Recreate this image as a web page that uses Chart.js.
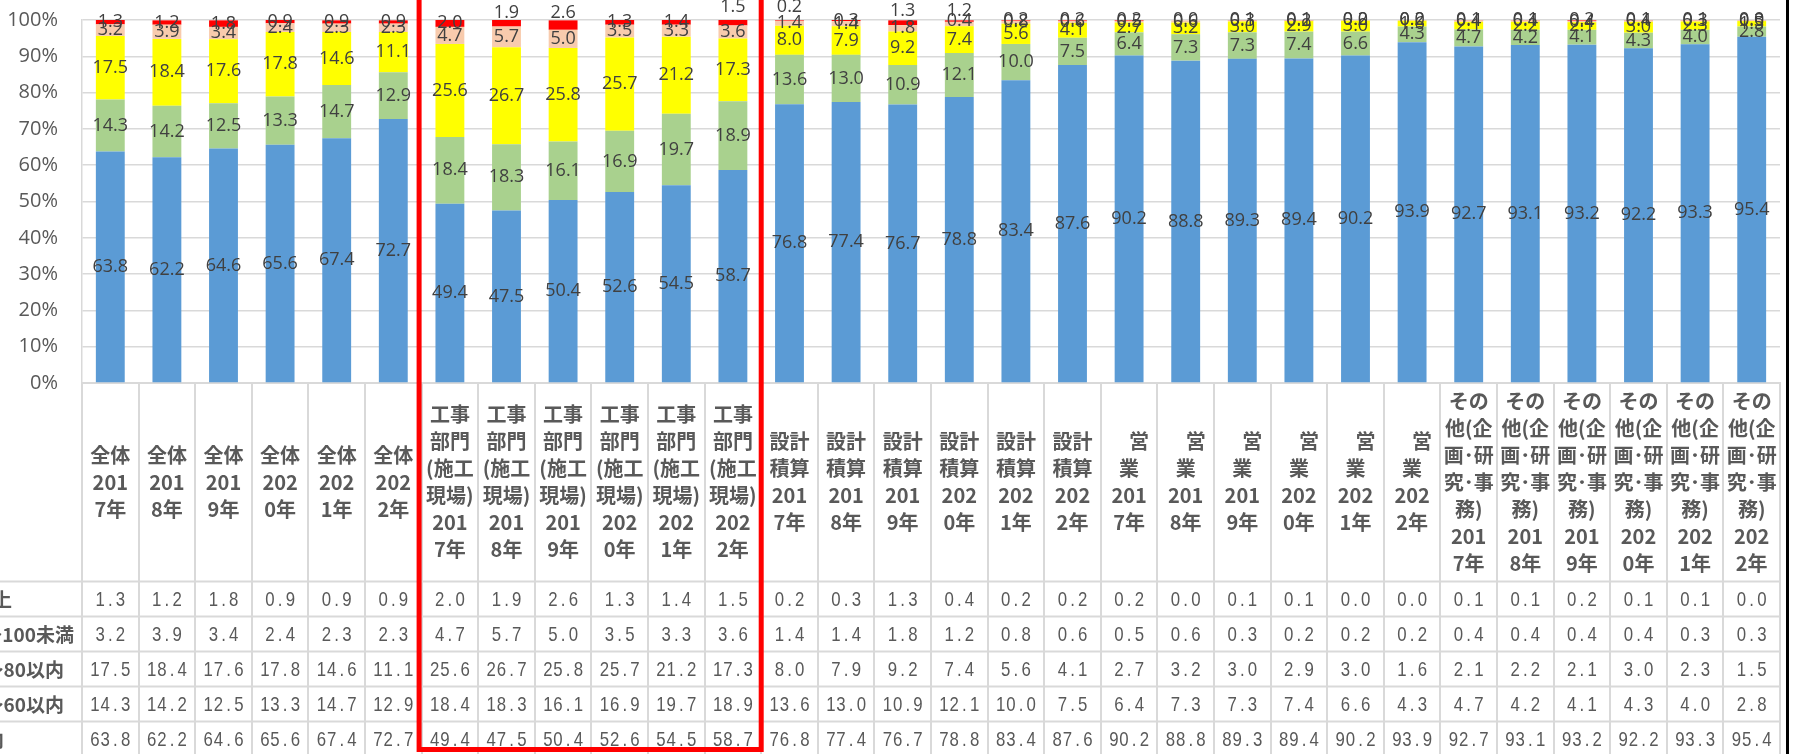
<!DOCTYPE html>
<html><head><meta charset="utf-8">
<script src="https://cdn.jsdelivr.net/npm/chart.js@4.4.1/dist/chart.umd.min.js"></script>
<style>html,body{margin:0;padding:0;background:#fff;overflow:hidden}canvas{display:block}</style>
</head><body>
<canvas id="c" width="1800" height="754" style="width:1800px;height:754px"></canvas>
<script>
// ---- categories ----
const groups = ['全体', '工事部門(施工現場)', '設計積算', '営業', 'その他(企画･研究･事務)'];
const years = ['2017年', '2018年', '2019年', '2020年', '2021年', '2022年'];
const groupLines = [['全体'], ['工事', '部門', '(施工', '現場)'], ['設計', '積算'], ['\u3000営', '業'], ['その', '他(企', '画･研', '究･事', '務)']];
const yearLines = [['201', '7年'], ['201', '8年'], ['201', '9年'], ['202', '0年'], ['202', '1年'], ['202', '2年']];
const categories = groups.flatMap(g => years.map(y => g + y));
const categoryLines = groupLines.flatMap(g => yearLines.map(y => g.concat(y)));

// ---- series (table row order: top to bottom) ----
const seriesNames = ['100以上', '80～100未満', '60～80以内', '45～60以内', '45以内'];
const s100over = [1.3, 1.2, 1.8, 0.9, 0.9, 0.9, 2.0, 1.9, 2.6, 1.3, 1.4, 1.5, 0.2, 0.3, 1.3, 0.4, 0.2, 0.2, 0.2, 0.0, 0.1, 0.1, 0.0, 0.0, 0.1, 0.1, 0.2, 0.1, 0.1, 0.0];
const s80to100 = [3.2, 3.9, 3.4, 2.4, 2.3, 2.3, 4.7, 5.7, 5.0, 3.5, 3.3, 3.6, 1.4, 1.4, 1.8, 1.2, 0.8, 0.6, 0.5, 0.6, 0.3, 0.2, 0.2, 0.2, 0.4, 0.4, 0.4, 0.4, 0.3, 0.3];
const s60to80 = [17.5, 18.4, 17.6, 17.8, 14.6, 11.1, 25.6, 26.7, 25.8, 25.7, 21.2, 17.3, 8.0, 7.9, 9.2, 7.4, 5.6, 4.1, 2.7, 3.2, 3.0, 2.9, 3.0, 1.6, 2.1, 2.2, 2.1, 3.0, 2.3, 1.5];
const s45to60 = [14.3, 14.2, 12.5, 13.3, 14.7, 12.9, 18.4, 18.3, 16.1, 16.9, 19.7, 18.9, 13.6, 13.0, 10.9, 12.1, 10.0, 7.5, 6.4, 7.3, 7.3, 7.4, 6.6, 4.3, 4.7, 4.2, 4.1, 4.3, 4.0, 2.8];
const s45under = [63.8, 62.2, 64.6, 65.6, 67.4, 72.7, 49.4, 47.5, 50.4, 52.6, 54.5, 58.7, 76.8, 77.4, 76.7, 78.8, 83.4, 87.6, 90.2, 88.8, 89.3, 89.4, 90.2, 93.9, 92.7, 93.1, 93.2, 92.2, 93.3, 95.4];
const tableRows = [s100over, s80to100, s60to80, s45to60, s45under];
const yTicks = [0, 10, 20, 30, 40, 50, 60, 70, 80, 90, 100];

// ---- styles ----
const colors = ['#FF0000', '#F8CBAD', '#FFFF00', '#A9D18E', '#5B9BD5'];
const GRID = '#d9d9d9';
const TEXT = '#595959';
// data labels that sit above the bar in the reference: {datasetIndex: {categoryIndex: y}}
const liftedLabels = {4: {7: 13, 8: 13, 11: 7, 12: 7, 14: 11}, 3: {15: 11}};
// row header visible end positions (left part is cut off in the reference)
const rowHeaderEnds = [12, 74, 64, 64, 4];

const labelPlugin = {
  id: 'segLabels',
  afterDatasetsDraw(chart) {
    const ctx = chart.ctx;
    ctx.save();
    ctx.font = '18px "Open Sans"';
    ctx.fillStyle = '#404040';
    ctx.textAlign = 'center';
    ctx.textBaseline = 'middle';
    chart.data.datasets.forEach((ds, di) => {
      const meta = chart.getDatasetMeta(di);
      const lift = liftedLabels[di] || {};
      meta.data.forEach((bar, i) => {
        let y = (bar.y + bar.base) / 2;
        if (lift[i] !== undefined) y = lift[i];
        ctx.fillText(ds.data[i].toFixed(1), bar.x, y);
      });
    });
    ctx.restore();
  }
};

const tablePlugin = {
  id: 'dataTable',
  afterDraw(chart) {
    const ctx = chart.ctx, xs = chart.scales.x, area = chart.chartArea;
    const n = categories.length;
    const step = xs.getPixelForValue(1) - xs.getPixelForValue(0);
    const headTop = area.bottom, headBottom = 581.5, rowH = 35;
    ctx.save();
    ctx.strokeStyle = GRID; ctx.lineWidth = 2;
    ctx.beginPath();
    for (let i = 0; i <= n; i++) {
      const x = Math.round(xs.getPixelForValue(i) - step / 2);
      ctx.moveTo(x, headTop); ctx.lineTo(x, 760);
    }
    for (let r = 0; r < tableRows.length; r++) {
      const y = headBottom + r * rowH;
      ctx.moveTo(0, y); ctx.lineTo(Math.round(area.right), y);
    }
    ctx.stroke();

    // header (category) text
    ctx.fillStyle = TEXT;
    ctx.textAlign = 'center'; ctx.textBaseline = 'middle';
    ctx.font = 'bold 20px "Noto Sans CJK JP"';
    const midH = (headTop + headBottom) / 2;
    categoryLines.forEach((lines, i) => {
      const x = xs.getPixelForValue(i);
      lines.forEach((ln, k) => {
        ctx.fillText(ln, x, midH + (k - (lines.length - 1) / 2) * 27);
      });
    });

    // row headers
    ctx.font = 'bold 19px "Noto Sans CJK JP"';
    ctx.textAlign = 'right';
    seriesNames.forEach((nm, r) => {
      ctx.fillText(nm, rowHeaderEnds[r], headBottom + r * rowH + rowH / 2 + 1);
    });

    // values (narrow monospaced look)
    ctx.font = '21px "Liberation Sans"';
    ctx.textAlign = 'center';
    const cw = 10.2;
    tableRows.forEach((row, r) => {
      const cy = headBottom + r * rowH + rowH / 2 + 1;
      row.forEach((v, i) => {
        const s = v.toFixed(1);
        const x0 = xs.getPixelForValue(i) - s.length * cw / 2;
        for (let j = 0; j < s.length; j++) {
          ctx.save();
          ctx.translate(x0 + (j + 0.5) * cw, cy);
          ctx.scale(0.8, 1);
          ctx.fillText(s[j], 0, 0);
          ctx.restore();
        }
      });
    });

    // red highlight frame
    ctx.strokeStyle = '#FF0000'; ctx.lineWidth = 5;
    const l = xs.getPixelForValue(6) - step / 2 - 2.5;
    const rr = xs.getPixelForValue(11) + step / 2;
    ctx.strokeRect(l, -10, rr - l, 759.5);

    // right black edge
    ctx.fillStyle = '#000';
    ctx.fillRect(1786, 0, 3, 754);
    ctx.restore();
  }
};

const datasets = [
  {label: seriesNames[4], data: s45under, backgroundColor: colors[4]},
  {label: seriesNames[3], data: s45to60, backgroundColor: colors[3]},
  {label: seriesNames[2], data: s60to80, backgroundColor: colors[2]},
  {label: seriesNames[1], data: s80to100, backgroundColor: colors[1]},
  {label: seriesNames[0], data: s100over, backgroundColor: colors[0]}
];

function build() {
  new Chart(document.getElementById('c'), {
    type: 'bar',
    data: {labels: categories, datasets},
    options: {
      responsive: false,
      animation: false,
      devicePixelRatio: 1,
      layout: {padding: {top: 20, right: 20, left: 0, bottom: 0}},
      datasets: {bar: {categoryPercentage: 1, barPercentage: 0.51, borderWidth: 0}},
      plugins: {legend: {display: false}, tooltip: {enabled: false}},
      scales: {
        x: {
          stacked: true,
          ticks: {display: false},
          grid: {display: false},
          border: {display: true, color: GRID, width: 2},
          afterFit: s => { s.height = 754 - 383; s.paddingLeft = 0; s.paddingRight = 0; }
        },
        y: {
          stacked: true,
          min: 0, max: 100,
          afterBuildTicks: s => { s.ticks = yTicks.map(v => ({value: v})); },
          ticks: {callback: v => v + '%', color: TEXT, font: {family: 'Open Sans', size: 20}, padding: 24},
          grid: {color: GRID, lineWidth: 1.5, drawTicks: false},
          border: {display: true, color: GRID, width: 1.5},
          afterFit: s => { s.width = 82; s.paddingTop = 0; s.paddingBottom = 0; }
        }
      }
    },
    plugins: [labelPlugin, tablePlugin]
  });
}
Promise.all([
  document.fonts.load('18px "Open Sans"'),
  document.fonts.load('bold 20px "Noto Sans CJK JP"'),
  document.fonts.load('21px "Liberation Sans"')
]).then(build, build);
</script>
</body></html>
